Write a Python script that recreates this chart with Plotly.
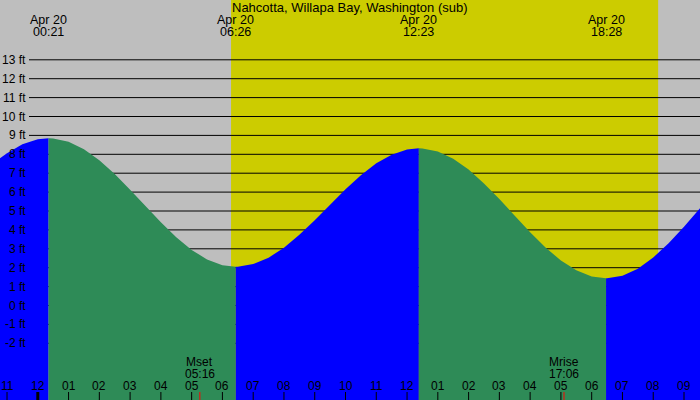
import plotly.graph_objects as go

# ---- data (hours relative to midnight Apr 20, heights in ft) ----
tide_hours = [-1.25, -1.0, -0.5, 0.0, 0.35,
              0.5, 1.0, 1.5, 2.0, 2.5, 3.0, 3.5, 4.0, 4.5, 5.0, 5.5, 6.0, 6.433,
              6.5, 7.0, 7.5, 8.0, 8.5, 9.0, 9.5, 10.0, 10.5, 11.0, 11.5, 12.0, 12.383,
              12.5, 13.0, 13.5, 14.0, 14.5, 15.0, 15.5, 16.0, 16.5, 17.0, 17.5, 18.0, 18.467,
              18.5, 19.0, 19.5, 20.0, 20.5, 21.0, 21.5, 21.55]
tide_ft = [7.76, 8.06, 8.53, 8.80, 8.85,
           8.84, 8.66, 8.27, 7.69, 6.96, 6.13, 5.26, 4.40, 3.61, 2.94, 2.44, 2.13, 2.05,
           2.05, 2.19, 2.53, 3.06, 3.74, 4.51, 5.34, 6.15, 6.89, 7.52, 7.98, 8.26, 8.32,
           8.31, 8.15, 7.76, 7.19, 6.46, 5.63, 4.75, 3.87, 3.07, 2.38, 1.86, 1.54, 1.44,
           1.44, 1.58, 1.95, 2.54, 3.29, 4.17, 5.11, 5.20]

turn_hours = [0.35, 6.433, 12.383, 18.467]
turn_dates = ["Apr 20", "Apr 20", "Apr 20", "Apr 20"]
turn_times = ["00:21", "06:26", "12:23", "18:28"]

sun_hours = [6.28, 20.16]          # sunrise, sunset
moon_hours = [5.267, 17.1]
moon_names = ["Mset", "Mrise"]
moon_times = ["05:16", "17:06"]

hour_ticks = list(range(-1, 22))
hour_labels = ["11", "12", "01", "02", "03", "04", "05", "06", "07", "08", "09", "10",
               "11", "12", "01", "02", "03", "04", "05", "06", "07", "08", "09"]

grid_ft = list(range(-2, 14))
grid_labels = [f"{v} ft" for v in grid_ft]

title = "Nahcotta, Willapa Bay, Washington (sub)"

# ---- style ----
X_RANGE = [-1.228, 21.52]
Y_RANGE = [-5.0, 16.164]
BOTTOM = -5.3
RISE = "#0000FF"
FALL = "#2E8B57"
NIGHT = "#BEBEBE"
DAY = "#CCCC00"
FAMILY = "Liberation Sans, Arial, sans-serif"
FONT = dict(family=FAMILY, size=12, color="black")
FONT_TOP = dict(family=FAMILY, size=12.5, color="black")
FONT_TITLE = dict(family=FAMILY, size=13, color="black")

fig = go.Figure()

bounds = [tide_hours[0]] + turn_hours + [tide_hours[-1]]
for i in range(len(bounds) - 1):
    lo, hi = bounds[i], bounds[i + 1]
    xs = [h for h in tide_hours if lo <= h <= hi]
    ys = [v for h, v in zip(tide_hours, tide_ft) if lo <= h <= hi]
    xs = xs + [xs[-1], xs[0]]
    ys = ys + [BOTTOM, BOTTOM]
    fig.add_trace(go.Scatter(x=xs, y=ys, mode="lines", fill="toself",
                             fillcolor=RISE if i % 2 == 0 else FALL,
                             line=dict(width=0), hoverinfo="skip",
                             showlegend=False))

shapes = []
# daylight band
shapes.append(dict(type="rect", xref="x", yref="paper", x0=sun_hours[0], x1=sun_hours[1],
                   y0=0, y1=1, fillcolor=DAY, line=dict(width=0), layer="below"))
# horizontal grid lines
for v in grid_ft:
    shapes.append(dict(type="line", xref="paper", yref="y", x0=29 / 700, x1=1,
                       y0=v, y1=v, line=dict(color="black", width=1), layer="below"))
# hour ticks
for h in hour_ticks:
    shapes.append(dict(type="line", xref="x", yref="paper", x0=h, x1=h, y0=0, y1=8 / 400,
                       line=dict(color="black", width=3 if h == 0 else 1)))
# moon ticks
for h in moon_hours:
    shapes.append(dict(type="line", xref="x", yref="paper", x0=h, x1=h, y0=0, y1=8 / 400,
                       line=dict(color="red", width=1)))

ann = []
ann.append(dict(text=title, xref="paper", yref="paper", x=0.5, y=1 - 7.5 / 400,
                showarrow=False, font=FONT_TITLE, xanchor="center", yanchor="middle",
                borderpad=0))
for h, d, t in zip(turn_hours, turn_dates, turn_times):
    ann.append(dict(text=d, xref="x", yref="paper", x=h, y=1 - 20 / 400, showarrow=False,
                    font=FONT_TOP, xanchor="center", yanchor="middle", borderpad=0))
    ann.append(dict(text=t, xref="x", yref="paper", x=h, y=1 - 32 / 400, showarrow=False,
                    font=FONT_TOP, xanchor="center", yanchor="middle", borderpad=0))
for v, lab in zip(grid_ft, grid_labels):
    ann.append(dict(text=lab, xref="paper", yref="y", x=27 / 700, y=v, showarrow=False,
                    font=FONT, xanchor="right", yanchor="middle", borderpad=0))
for h, lab in zip(hour_ticks, hour_labels):
    ann.append(dict(text=lab, xref="x", yref="paper", x=h, y=(400 - 385.5) / 400,
                    showarrow=False, font=FONT, xanchor="center", yanchor="middle",
                    borderpad=0))
for h, n, t in zip(moon_hours, moon_names, moon_times):
    ann.append(dict(text=n, xref="x", yref="paper", x=h, y=(400 - 361.5) / 400,
                    showarrow=False, font=FONT, xanchor="center", yanchor="middle",
                    borderpad=0))
    ann.append(dict(text=t, xref="x", yref="paper", x=h, y=(400 - 373.5) / 400,
                    showarrow=False, font=FONT, xanchor="center", yanchor="middle",
                    borderpad=0))

fig.update_layout(
    width=700, height=400, margin=dict(l=0, r=0, t=0, b=0),
    paper_bgcolor=NIGHT, plot_bgcolor=NIGHT,
    xaxis=dict(range=X_RANGE, visible=False, fixedrange=True),
    yaxis=dict(range=Y_RANGE, visible=False, fixedrange=True),
    shapes=shapes, annotations=ann, showlegend=False,
)

fig.write_html("out.html", config={"displayModeBar": False})
